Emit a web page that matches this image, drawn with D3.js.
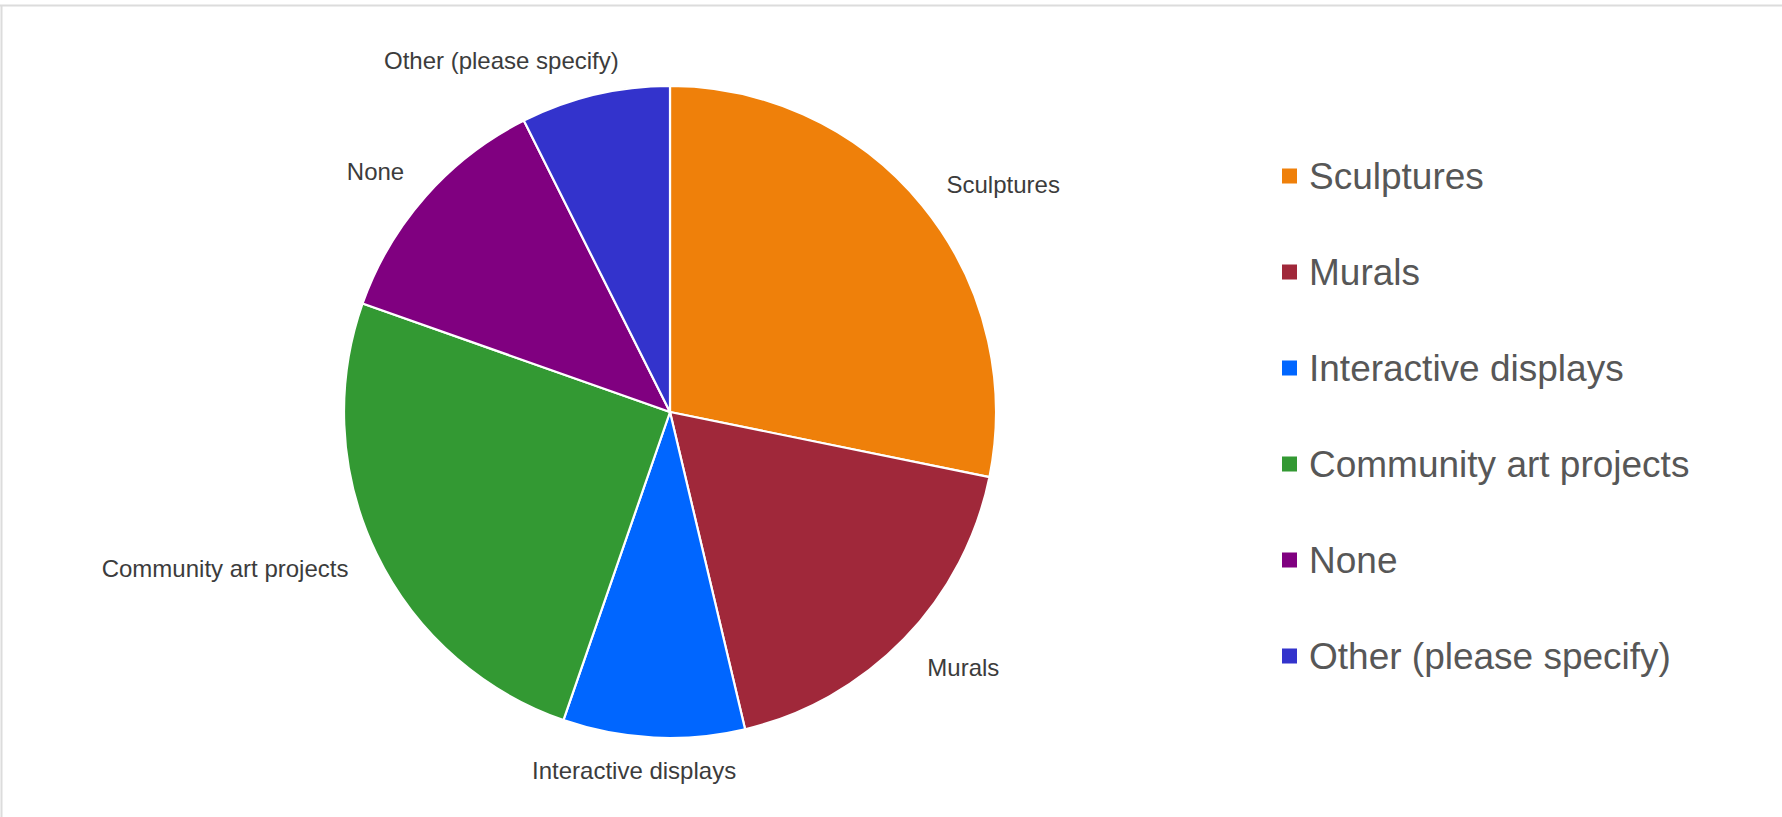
<!DOCTYPE html>
<html>
<head>
<meta charset="utf-8">
<script src="https://cdn.jsdelivr.net/npm/d3@7/dist/d3.min.js"></script>
<style>
  html, body { margin: 0; padding: 0; background: #fff; }
  svg { display: block; }
  text { font-family: "Liberation Sans", Arial, sans-serif; }
</style>
</head>
<body>
<svg id="chart" width="1782" height="817"></svg>
<script>
// ---- data ----
const categories = ["Sculptures", "Murals", "Interactive displays", "Community art projects", "None", "Other (please specify)"];
const values = [28.2, 18.1, 9.0, 25.1, 12.2, 7.4];
const colors = ["#ef800a", "#a0283a", "#0066ff", "#339933", "#800080", "#3333cc"];

// ---- layout ----
const W = 1782, H = 817;
const cx = 670, cy = 412, R = 326;
const labelR = 357;
const labelAnchor = { "Sculptures": "start", "Murals": "start", "Interactive displays": "middle",
  "Community art projects": "end", "None": "end", "Other (please specify)": "end" };
const labelNudge = { "Sculptures": [0, -2], "Murals": [1, 7], "Interactive displays": [-18, 2],
  "Community art projects": [0, 1], "None": [2, -4], "Other (please specify)": [31, -4] };

const svg = d3.select("#chart");

// frame (top & left edges visible)
svg.append("line").attr("x1", 0).attr("x2", W).attr("y1", 5.5).attr("y2", 5.5)
  .attr("stroke", "#dcdcdc").attr("stroke-width", 2);
svg.append("line").attr("x1", 1.5).attr("x2", 1.5).attr("y1", 5).attr("y2", H)
  .attr("stroke", "#dcdcdc").attr("stroke-width", 2);

const color = d3.scaleOrdinal().domain(categories).range(colors);
const pie = d3.pie().sort(null).value(d => d.value);
const arcs = pie(categories.map((c, i) => ({ cat: c, value: values[i] })));
const arc = d3.arc().innerRadius(0).outerRadius(R);

const g = svg.append("g").attr("transform", `translate(${cx},${cy})`);
g.selectAll("path.slice").data(arcs).join("path")
  .attr("class", "slice")
  .attr("d", arc)
  .attr("fill", d => color(d.data.cat))
  .attr("stroke", "#fff")
  .attr("stroke-width", 2.2)
  .attr("stroke-linejoin", "round");

// slice labels
g.selectAll("text.lbl").data(arcs).join("text")
  .attr("class", "lbl")
  .attr("x", d => {
    const a = (d.startAngle + d.endAngle) / 2;
    return labelR * Math.sin(a) + labelNudge[d.data.cat][0];
  })
  .attr("y", d => {
    const a = (d.startAngle + d.endAngle) / 2;
    return -labelR * Math.cos(a) + 8.5 + labelNudge[d.data.cat][1];
  })
  .attr("text-anchor", d => labelAnchor[d.data.cat])
  .attr("font-size", 24)
  .attr("fill", "#3c3c3c")
  .text(d => d.data.cat);

// legend
const legY = d3.scaleLinear().domain([0, categories.length - 1]).range([176, 656]);
const leg = svg.append("g");
const items = leg.selectAll("g").data(categories).join("g")
  .attr("transform", (d, i) => `translate(1282,${legY(i)})`);
items.append("rect").attr("x", 0).attr("y", -7.5).attr("width", 15).attr("height", 15)
  .attr("fill", d => color(d));
items.append("text").attr("x", 27).attr("y", 13.2)
  .attr("font-size", 37).attr("fill", "#575757")
  .text(d => d);
</script>
</body>
</html>
